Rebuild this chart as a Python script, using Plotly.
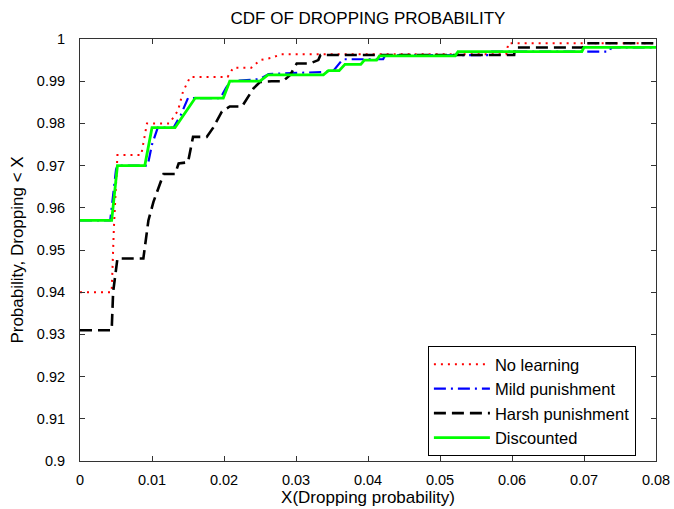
import plotly.graph_objects as go

# Step-curve vertices (x = dropping probability, y = CDF)
no_learning_x = [0, 0.0044, 0.0047, 0.0052, 0.0085, 0.0093, 0.0124, 0.0136, 0.0143, 0.0153, 0.0205, 0.0213, 0.0238,
                 0.0250, 0.0265, 0.0280, 0.0340, 0.0592, 0.0595, 0.08]
no_learning_y = [0.940, 0.940, 0.955, 0.9725, 0.9725, 0.980, 0.980, 0.983, 0.9875, 0.991, 0.991, 0.9932, 0.9932,
                 0.995, 0.9955, 0.9964, 0.9964, 0.9964, 0.999, 0.999]

mild_x = [0, 0.0042, 0.0050, 0.0052, 0.0094, 0.0100, 0.0108, 0.0130, 0.0140, 0.0150, 0.0195, 0.0203, 0.0210,
          0.0250, 0.0262, 0.0340, 0.0352, 0.0365, 0.0421, 0.0424, 0.0569, 0.0572, 0.0735, 0.0738, 0.08]
mild_y = [0.957, 0.957, 0.969, 0.970, 0.970, 0.975, 0.979, 0.979, 0.982, 0.986, 0.986, 0.9885, 0.990,
          0.9905, 0.9917, 0.9922, 0.9925, 0.9952, 0.9952, 0.9962, 0.9962, 0.997, 0.997, 0.998, 0.998]

harsh_x = [0, 0.0044, 0.0046, 0.0052, 0.0088, 0.0095, 0.0102, 0.0110, 0.0116, 0.0132, 0.0137, 0.0150, 0.0157,
           0.0176, 0.0185, 0.0197, 0.0208, 0.0225, 0.0232, 0.0241, 0.0250, 0.0266, 0.0282, 0.0292, 0.0301,
           0.0319, 0.0331, 0.0334, 0.0603, 0.0604, 0.0698, 0.0701, 0.08]
harsh_y = [0.931, 0.931, 0.940, 0.948, 0.948, 0.957, 0.9614, 0.965, 0.968, 0.968, 0.9705, 0.9708, 0.9768,
           0.9768, 0.979, 0.9828, 0.984, 0.984, 0.986, 0.9883, 0.9898, 0.990, 0.990, 0.9915, 0.9942,
           0.9942, 0.995, 0.9962, 0.9962, 0.998, 0.998, 0.999, 0.999]

discounted_x = [0, 0.0044, 0.0052, 0.0090, 0.0100, 0.0132, 0.0160, 0.0199, 0.0208, 0.0250, 0.0261, 0.0338,
                0.0345, 0.0360, 0.0368, 0.0390, 0.0395, 0.0412, 0.0416, 0.0521, 0.0525, 0.0697, 0.0700, 0.08]
discounted_y = [0.957, 0.957, 0.970, 0.970, 0.979, 0.979, 0.986, 0.986, 0.990, 0.990, 0.9915, 0.9915,
                0.9925, 0.9925, 0.994, 0.994, 0.995, 0.995, 0.996, 0.996, 0.997, 0.997, 0.998, 0.998]

x_ticks = [0, 0.01, 0.02, 0.03, 0.04, 0.05, 0.06, 0.07, 0.08]
x_tick_text = ["0", "0.01", "0.02", "0.03", "0.04", "0.05", "0.06", "0.07", "0.08"]
y_ticks = [0.9, 0.91, 0.92, 0.93, 0.94, 0.95, 0.96, 0.97, 0.98, 0.99, 1.0]
y_tick_text = ["0.9", "0.91", "0.92", "0.93", "0.94", "0.95", "0.96", "0.97", "0.98", "0.99", "1"]

FONT = "Liberation Sans"

fig = go.Figure()
fig.add_trace(go.Scatter(x=no_learning_x, y=no_learning_y, mode="lines", name="No learning", legendgroup="a",
                         line=dict(color="#ff0000", width=2, dash="2px,5px")))
fig.add_trace(go.Scatter(x=mild_x, y=mild_y, mode="lines", name="Mild punishment", legendgroup="b",
                         line=dict(color="#0000ff", width=2.2, dash="12px,5px,2px,5px")))
fig.add_trace(go.Scatter(x=harsh_x, y=harsh_y, mode="lines", name="Harsh punishment", legendgroup="c",
                         line=dict(color="#000000", width=2.6, dash="12px,6px")))
fig.add_trace(go.Scatter(x=discounted_x, y=discounted_y, mode="lines", name="Discounted", legendgroup="d",
                         line=dict(color="#00ff00", width=2.8)))

axis_common = dict(showline=True, linecolor="#333333", linewidth=1, mirror="ticks", ticks="inside",
                   ticklen=5, tickcolor="#333333", showgrid=False, zeroline=False, automargin=False,
                   tickfont=dict(family=FONT, size=14.5, color="#000000"))

fig.update_layout(
    width=674, height=509,
    margin=dict(l=80, r=18, t=39, b=48),
    paper_bgcolor="white", plot_bgcolor="white",
    title=dict(text="CDF OF DROPPING PROBABILITY", x=368 / 674, xref="container", xanchor="center",
               y=1 - 18 / 509, yref="container", yanchor="middle",
               font=dict(family=FONT, size=17, color="#000000")),
    xaxis=dict(range=[0, 0.08], tickvals=x_ticks, ticktext=x_tick_text, ticklabelstandoff=6,
               title=dict(text="X(Dropping probability)", standoff=2,
                          font=dict(family=FONT, size=17, color="#000000")), **axis_common),
    yaxis=dict(range=[0.9, 1.0], tickvals=y_ticks, ticktext=y_tick_text, ticklabelstandoff=11,
               title=dict(text="Probability, Dropping < X", standoff=8,
                          font=dict(family=FONT, size=17, color="#000000")), **axis_common),
    legend=dict(x=0.604, y=0.2725, xanchor="left", yanchor="top", bgcolor="white",
                bordercolor="#000000", borderwidth=1, itemwidth=56, tracegroupgap=0,
                entrywidth=150, entrywidthmode="pixels",
                font=dict(family=FONT, size=16.5, color="#000000")),
    showlegend=True,
)

fig.write_html("out.html")
